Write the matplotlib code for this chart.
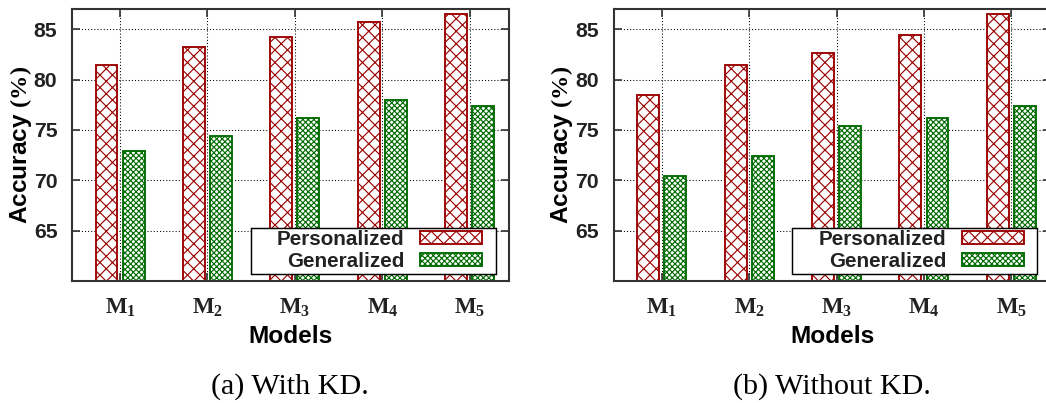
import numpy as np
import matplotlib
matplotlib.use('Agg')
import matplotlib.pyplot as plt
from matplotlib.patches import Rectangle

## data
models = ['1', '2', '3', '4', '5']
kd_personalized = [81.4, 83.2, 84.2, 85.7, 86.5]
kd_generalized = [72.9, 74.4, 76.2, 78.0, 77.4]
nokd_personalized = [78.5, 81.4, 82.6, 84.4, 86.5]
nokd_generalized = [70.4, 72.4, 75.4, 76.2, 77.4]
captions = ['(a) With KD.', '(b) Without KD.']
yticks = [65, 70, 75, 80, 85]

plt.rcParams['font.family'] = 'Liberation Sans'
plt.rcParams['font.weight'] = 'bold'
plt.rcParams['mathtext.fontset'] = 'custom'
plt.rcParams['mathtext.rm'] = 'Liberation Serif'
plt.rcParams['mathtext.it'] = 'Liberation Serif:italic'
plt.rcParams['mathtext.bf'] = 'Liberation Serif:bold'
plt.rcParams['hatch.linewidth'] = 0.55
plt.rcParams['text.color'] = '#222222'

red = '#9b0000'
green = '#006b00'

fig = plt.figure(figsize=(1046 / 150, 403 / 150), dpi=150)
ax1 = fig.add_axes([72 / 1046, 122 / 403, 437 / 1046, 272 / 403])
ax2 = fig.add_axes([613.7 / 1046, 122 / 403, 437 / 1046, 272 / 403])

x = np.arange(len(models))
w = 0.25
ticklabels = [r'$\mathbf{M}_{\mathbf{%s}}$' % m for m in models]

for ax, pers, gen, cap in [(ax1, kd_personalized, kd_generalized, captions[0]),
                           (ax2, nokd_personalized, nokd_generalized, captions[1])]:
    ax.bar(x - 0.155, pers, w, bottom=0, color='white', edgecolor=red,
           hatch='xxxx', linewidth=0.9, label='Personalized', zorder=2)
    ax.bar(x + 0.155, gen, w, bottom=0, color='white', edgecolor=green,
           hatch='xxxxxxxxx', linewidth=0.9, label='Generalized', zorder=2)
    ax.set_xlim(-0.55, 4.45)
    ax.set_ylim(60, 87)
    ax.set_yticks(yticks)
    ax.set_xticks(x)
    ax.set_xticklabels(ticklabels, fontsize=11)
    ax.tick_params(axis='y', labelsize=10.2, pad=7)
    ax.tick_params(axis='x', pad=7)
    ax.tick_params(direction='in', top=True, right=True, length=4, width=0.8,
                   color='#333333', labelcolor='#222222')
    ax.grid(True, color='black', linestyle=(0, (1, 2)), linewidth=0.5)
    ax.set_axisbelow(True)
    for s in ax.spines.values():
        s.set_linewidth(1.0)
        s.set_color('#333333')
    ax.set_xlabel('Models', fontsize=11.7, fontweight='bold', labelpad=3)
    ax.set_ylabel(r'Accuracy $(\mathit{\%})$', fontsize=11.7, fontweight='bold', labelpad=0)

    ## legend box drawn by hand so the padding matches
    ax.add_patch(Rectangle((0.409, 0.0246), 0.5606, 0.1694, transform=ax.transAxes,
                           facecolor='white', edgecolor='black', linewidth=0.7, zorder=4))
    leg = ax.legend(loc='lower right', bbox_to_anchor=(0.938, 0.037),
                    borderaxespad=0, borderpad=0, markerfirst=False, fontsize=9.9,
                    handlelength=3.0, handleheight=0.63, handletextpad=0.75,
                    labelspacing=0.15, frameon=False)
    leg.set_zorder(5)

    pos = ax.get_position()
    fig.text(pos.x0 + 218 / 1046, 16 / 403, cap, ha='center', va='center',
             fontsize=14.4, fontweight='normal', family='Liberation Serif', color='black')

plt.savefig('out.png', dpi=150)
